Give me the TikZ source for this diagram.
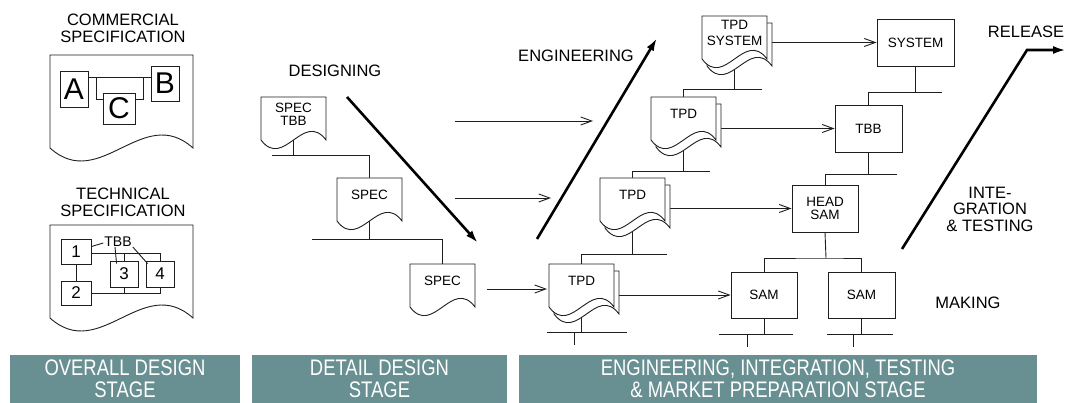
\documentclass[tikz,border=0pt]{standalone}
\usepackage{fontspec}
\setmainfont{Liberation Sans}
\newfontfamily\bannerfont[FakeStretch=0.82]{Liberation Sans}
\usetikzlibrary{arrows.meta,calc}
\pgfdeclarelayer{bg}
\pgfsetlayers{bg,main}

\definecolor{stageteal}{RGB}{104,143,145}
\definecolor{inkline}{RGB}{30,30,30}

\tikzset{
  ln/.style={line width=0.9pt, draw=inkline},
  thinarrow/.style={ln, -{Straight Barb[length=11pt,width=8pt,line width=0.9pt]}},
  bigarrow/.style={line width=2.6pt, draw=black, -{Latex[length=13pt,width=8pt]}},
  boxnode/.style={ln, rectangle, inner sep=0pt, minimum width=66, minimum height=46,
    align=center, font=\fontsize{13.5}{12.5}\selectfont},
  doctext/.style={inner sep=0pt, align=center, font=\fontsize{13.5}{13}\selectfont},
  label/.style={inner sep=0pt, align=center, font=\fontsize{16.5}{17.5}\selectfont},
  bigletter/.style={ln, rectangle, inner sep=0pt, font=\fontsize{30}{30}\selectfont},
  numbox/.style={ln, rectangle, inner sep=0pt, minimum width=28, minimum height=26,
    font=\fontsize{17}{17}\selectfont},
  banner/.style={rectangle, fill=stageteal, inner sep=0pt, minimum height=48,
    align=center, text=white, font=\bannerfont\fontsize{22.5}{22.5}\selectfont}
}

% page with a wavy lower edge: x, y (top left), width, height to the corners, wave depth
\newcommand\docpage[5]{%
  \filldraw[ln, fill=white] (#1,#2) -- ({#1+#3},#2) -- ({#1+#3},{#2+#4})
    .. controls ({#1+0.65*#3},{#2+#4-#5}) and ({#1+0.35*#3},{#2+#4+#5}) .. (#1,{#2+#4}) -- cycle;}

% single specification sheet
\newcommand\specdoc[4]{%
  \docpage{#2}{#3}{65}{43}{30}
  \node[doctext] (#1) at ({#2+32.5},{#3+17}) {#4};
  \coordinate (#1-t) at ({#2+32.5},#3);
  \coordinate (#1-b) at ({#2+32.5},{#3+43});
  \coordinate (#1-e) at ({#2+65},{#3+25});}

% stacked sheets (two pages)
\newcommand\stackdoc[4]{%
  \docpage{#2+5}{#3+7}{65}{43}{30}
  \docpage{#2}{#3}{65}{43}{30}
  \node[doctext] (#1) at ({#2+32.5},{#3+17}) {#4};
  \coordinate (#1-t) at ({#2+32.5},#3);
  \coordinate (#1-b) at ({#2+32.5},{#3+45});
  \coordinate (#1-e) at ({#2+70},{#3+28});}

\begin{document}
\begin{tikzpicture}[x=1pt,y=-1pt]
\useasboundingbox (0,0) rectangle (1070,403);

% ---------- overall design: commercial specification ----------
\node[label] (comlbl) at (123,28.5) {COMMERCIAL\\SPECIFICATION};
\docpage{50}{55}{143}{93}{45}
\node[bigletter, minimum width=28, minimum height=36] (A) at (74,89) {A};
\node[bigletter, minimum width=28, minimum height=35] (B) at (165,83.5) {B};
\node[bigletter, minimum width=32, minimum height=31] (C) at (119,108.5) {C};
\coordinate (abl) at ($(A.north east)+(0,7)$);
\draw[ln] (abl) -- (abl -| B.west);
\draw[ln] ($(abl)+(8,0)$) |- ($(C.north west)+(0,7)$);
\draw[ln] ($(abl -| B.west)+(-7,0)$) |- ($(C.north east)+(0,7)$);

% ---------- overall design: technical specification ----------
\node[label] (teclbl) at (123,202.5) {TECHNICAL\\SPECIFICATION};
\docpage{50}{225}{143}{93}{45}
\node[numbox, minimum width=30, minimum height=25] (n1) at (76,251.5) {1};
\node[numbox, minimum width=30, minimum height=24] (n2) at (76,293) {2};
\node[numbox] (n3) at (124,274) {3};
\node[numbox] (n4) at (160,274) {4};
\node[doctext, font=\fontsize{14}{14}\selectfont] (tbb) at (118,242) {TBB};
\draw[ln] (n1) -- (n2);
\coordinate (tl1) at ($(n1.east)+(0,1.5)$);
\draw[ln] (tl1) -- (tl1 -| n4.north) -- (n4.north);
\draw[ln] (tl1 -| n3.north) -- (n3.north);
\draw[ln] (n2.east) -- (n2.east -| n4.south) -- (n4.south);
\draw[ln] (n2.east -| n3.south) -- (n3.south);
\draw[ln] ($(n1.north east)+(0,8)$) -- ($(tbb.west)+(-1,1)$);
\draw[ln] ($(tbb.south)+(-3,0)$) -- ($(n3.north west)+(7,3)$);
\draw[ln] ($(tbb.south east)+(1,0)$) -- ($(n4.north west)+(2,3)$);

% ---------- detail design ----------
\node[label] (desl) at (335,71) {DESIGNING};
\specdoc{s1}{261}{97}{SPEC\\TBB}
\specdoc{s2}{337}{178}{SPEC}
\specdoc{s3}{410}{264}{SPEC}
\coordinate (desA) at (347,97);
\coordinate (desB) at (478,243);
\draw[bigarrow] (desA) -- (desB);

% ---------- engineering / integration / making ----------
\node[label] (engl) at (576,55.5) {ENGINEERING};
\coordinate (engA) at (537,239);
\coordinate (engB) at (657,38);
\draw[bigarrow] (engA) -- (engB);

\stackdoc{t1}{702}{16}{TPD\\[3pt]SYSTEM}
\stackdoc{t2}{651}{97}{TPD}
\stackdoc{t3}{600}{178}{TPD}
\stackdoc{t4}{549}{264}{TPD}

\node[boxnode, minimum width=77, minimum height=47] (sys) at (915.5,42.5) {SYSTEM};
\node[boxnode, minimum width=67, minimum height=47] (tbbx) at (868.5,128.5) {TBB};
\node[boxnode, minimum height=47] (head) at (825,208.5) {HEAD\\SAM};
\node[boxnode] (sam1) at (764,295) {SAM};
\node[boxnode, minimum width=67] (sam2) at (861.5,295) {SAM};

\node[label] (rell) at (1026,31.5) {RELEASE};
\node[label, font=\fontsize{16.5}{16.5}\selectfont] (intl) at (990,209) {INTE-\\GRATION\\\& TESTING};
\node[label] (makl) at (968,302.5) {MAKING};
\coordinate (relA) at (902,249);
\coordinate (relB) at (1027,50);
\coordinate (relC) at (1066,50);
\draw[bigarrow, line join=miter] (relA) -- (relB) -- (relC);

% free arrows between the stages
\coordinate (h1a) at (455,121);  \coordinate (h1b) at (593,121);
\coordinate (h2a) at (455,198);  \coordinate (h2b) at (551,198);
\coordinate (h3a) at (487,289);  \coordinate (h3b) at (547,289);
\draw[thinarrow] (h1a) -- (h1b);
\draw[thinarrow] (h2a) -- (h2b);
\draw[thinarrow] (h3a) -- (h3b);

% ---------- hierarchy lines, behind the sheets ----------
\begin{pgfonlayer}{bg}
  % specification tree
  \coordinate (b1) at (272,155);
  \draw[ln] (s1-b) -- (s1-b |- b1);
  \draw[ln] (b1) -| (s2-t);
  \coordinate (b2) at (312,239);
  \draw[ln] (s2-b) -- (s2-b |- b2);
  \draw[ln] (b2) -| (s3-t);
  % product documentation tree
  \coordinate (b3) at (762,89);
  \draw[ln] (t1-b) -- (t1-b |- b3);
  \draw[ln] (b3) -| (t2-t);
  \coordinate (b4) at (710,171);
  \draw[ln] (t2-b) -- (t2-b |- b4);
  \draw[ln] (b4) -| (t3-t);
  \coordinate (b5) at (667,254);
  \draw[ln] (t3-b) -- (t3-b |- b5);
  \draw[ln] (b5) -| (t4-t);
  \coordinate (b6L) at (547,332);
  \coordinate (b6R) at (627,332);
  \coordinate (b6T) at (574,345);
  \draw[ln] (t4-b) -- (t4-b |- b6L);
  \draw[ln] (b6L) -- (b6R);
  \draw[ln] (b6L -| b6T) -- (b6T);
  % documents to products
  \draw[thinarrow] (t1-e |- sys.west) -- (sys.west);
  \draw[thinarrow] (t2-e |- tbbx.west) -- (tbbx.west);
  \draw[thinarrow] (t3-e |- head.west) -- (head.west);
  \draw[thinarrow] (t4-e |- sam1.west) -- (sam1.west);
  % product tree
  \coordinate (b7) at (942,92);
  \draw[ln] (sys.south) -- (sys.south |- b7);
  \draw[ln] (b7) -| (tbbx.north);
  \coordinate (b8) at (897,174);
  \draw[ln] (tbbx.south) -- (tbbx.south |- b8);
  \draw[ln] (b8) -| (head.north);
  \coordinate (b9) at (826,258);
  \draw[ln] (head.south) -- (b9);
  \draw[ln] (sam1.north) |- (b9) -| (sam2.north);
  \coordinate (b10L) at (719,334);
  \coordinate (b10R) at (793,334);
  \coordinate (b10T) at (747,347);
  \draw[ln] (sam1.south) -- (sam1.south |- b10L);
  \draw[ln] (b10L) -- (b10R);
  \draw[ln] (b10L -| b10T) -- (b10T);
  \coordinate (b11L) at (827,334);
  \coordinate (b11R) at (893,334);
  \coordinate (b11T) at (853,347);
  \draw[ln] (sam2.south) -- (sam2.south |- b11L);
  \draw[ln] (b11L) -- (b11R);
  \draw[ln] (b11L -| b11T) -- (b11T);
\end{pgfonlayer}

% ---------- stage banners ----------
\node[banner, minimum width=230] (st1) at (125,379) {OVERALL DESIGN\\STAGE};
\node[banner, minimum width=255] (st2) at (379.5,379) {DETAIL DESIGN\\STAGE};
\node[banner, minimum width=518] (st3) at (778,379) {ENGINEERING, INTEGRATION, TESTING\\\& MARKET PREPARATION STAGE};
\end{tikzpicture}
\end{document}
